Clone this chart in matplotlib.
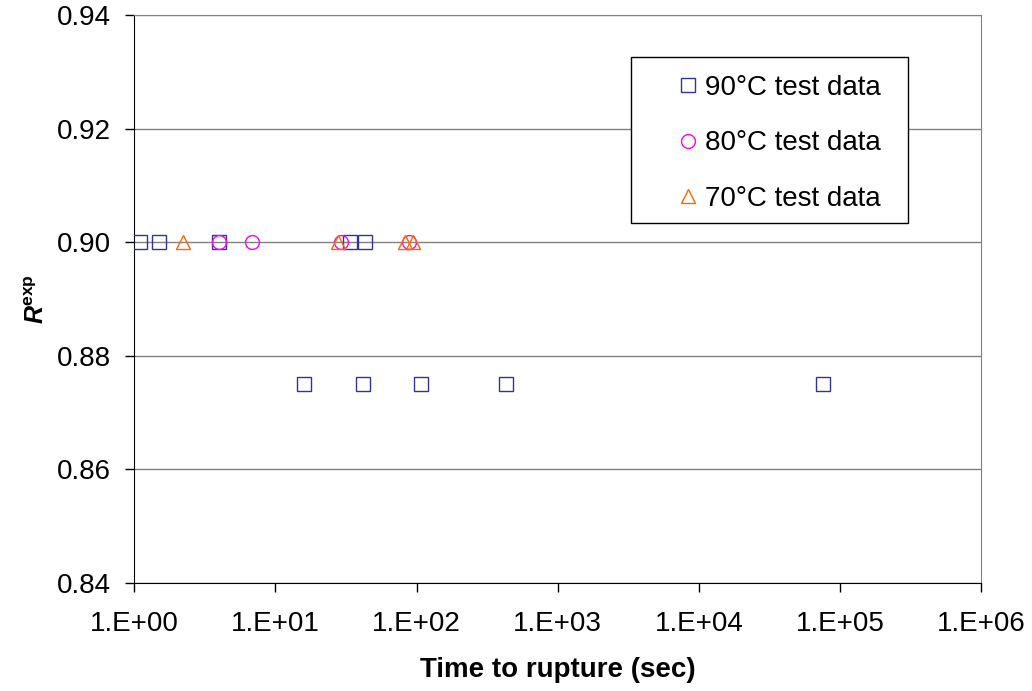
import matplotlib
matplotlib.use("Agg")
import matplotlib.pyplot as plt
from matplotlib.patches import Rectangle

plt.rcParams["font.family"] = ["Liberation Sans", "DejaVu Sans"]
plt.rcParams["mathtext.fontset"] = "custom"
plt.rcParams["mathtext.rm"] = "Liberation Sans"
plt.rcParams["mathtext.bf"] = "Liberation Sans:bold"
plt.rcParams["mathtext.it"] = "Liberation Sans:italic"
plt.rcParams["mathtext.bfit"] = "Liberation Sans:bold:italic"

# time to rupture (sec) and R^exp
t_90 = [1.10, 1.50, 4.0, 33.7, 43.3, 15.9, 41.7, 107, 429, 75000]
r_90 = [0.900, 0.900, 0.900, 0.900, 0.900, 0.875, 0.875, 0.875, 0.875, 0.875]
t_80 = [4.0, 6.8, 29.1, 87.8]
r_80 = [0.900, 0.900, 0.900, 0.900]
t_70 = [2.2, 27.8, 82.6, 94.6]
r_70 = [0.900, 0.900, 0.900, 0.900]

y_ticks = [0.84, 0.86, 0.88, 0.90, 0.92, 0.94]
x_ticks = [1e0, 1e1, 1e2, 1e3, 1e4, 1e5, 1e6]
x_labels = ["1.E+00", "1.E+01", "1.E+02", "1.E+03", "1.E+04", "1.E+05", "1.E+06"]

fig = plt.figure(figsize=(10.32, 6.91), dpi=100)
ax = fig.add_axes([0.1301, 0.1567, 0.8208, 0.8216])

ms = 10
ax.plot(t_90, r_90, ls="none", marker="s", ms=ms, mfc="none", mec="#333399",
        mew=1.0, label="90°C test data", zorder=3)
ax.plot(t_80, r_80, ls="none", marker="o", ms=ms, mfc="none", mec="#FF00FF",
        mew=1.0, label="80°C test data", zorder=3)
ax.plot(t_70, r_70, ls="none", marker="^", ms=ms, mfc="none", mec="#FF6600",
        mew=1.0, label="70°C test data", zorder=3)

ax.set_xscale("log")
ax.set_xlim(1, 1e6)
ax.set_ylim(0.84, 0.94)
ax.set_xticks(x_ticks)
ax.set_xticklabels(x_labels)
ax.minorticks_off()
ax.set_yticks(y_ticks)
ax.set_yticklabels([f"{v:.2f}" for v in y_ticks])
ax.tick_params(labelsize=20, direction="out", length=6.5, width=1, color="black")
ax.tick_params(axis="x", pad=14)
ax.tick_params(axis="y", pad=10)

for v in y_ticks:
    ax.axhline(v, color="#808080", lw=1, zorder=1)

ax.spines["left"].set_color("black")
ax.spines["bottom"].set_color("black")
ax.spines["top"].set_color("#808080")
ax.spines["right"].set_color("#808080")

ax.set_xlabel("Time to rupture (sec)", fontsize=20, fontweight="bold", labelpad=14)
ax.set_ylabel(r"$\mathbfit{R}^{\mathbf{exp}}$", fontsize=18, labelpad=6)

# Excel-style legend box: frame drawn separately so the marker sits well inside
ax.add_patch(Rectangle((0.5864, 0.6336), 0.3271, 0.2924, transform=ax.transAxes,
                       facecolor="white", edgecolor="black", lw=1, zorder=4))
leg = ax.legend(loc="upper left", bbox_to_anchor=(0.6407, 0.894), fontsize=20,
                frameon=False, handlelength=0.8, handletextpad=0.2,
                labelspacing=1.05, borderpad=0, borderaxespad=0, numpoints=1)
leg.set_zorder(5)

fig.savefig("out.png", dpi=100)
